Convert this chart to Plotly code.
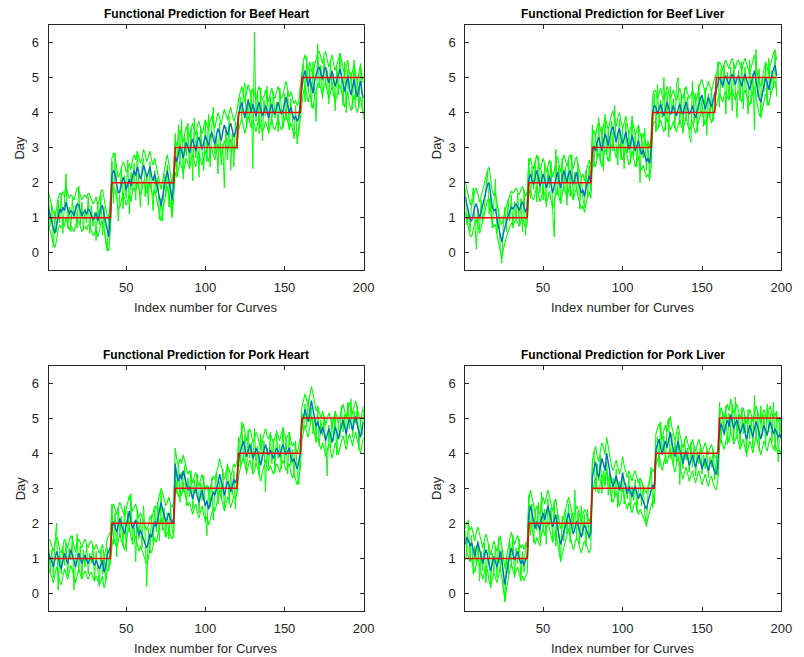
import plotly.graph_objects as go

# Predicted storage day per curve, grouped by the true day (1..5).
# Each panel: predicted value, upper/lower prediction bounds, and the
# individual (noisier) functional estimate.
DAYS = [1, 2, 3, 4, 5]
X_TICKS = [50, 100, 150, 200]
Y_TICKS = [0, 1, 2, 3, 4, 5, 6]

beef_heart_pred = [
    [1.25, 1.05, 0.85, 0.70, 0.55, 0.80, 1.10, 1.25, 1.15, 1.30, 1.20, 1.45, 1.25, 1.10, 1.20, 1.15, 1.05, 1.25, 1.40, 1.35,
     1.20, 1.05, 1.15, 1.20, 1.10, 1.25, 1.20, 1.10, 0.95, 1.00, 1.15, 0.90, 1.05, 1.30, 1.35, 1.10, 0.85, 0.60, 0.45, 1.10],
    [2.20, 2.35, 2.25, 1.95, 1.70, 1.75, 1.95, 2.15, 2.05, 1.80, 1.95, 2.10, 1.90, 2.20, 2.35, 2.20, 2.45, 2.30, 2.10, 2.25,
     2.50, 2.35, 2.15, 2.30, 2.45, 2.20, 2.05, 2.25, 2.00, 1.85, 1.55, 1.35, 1.60, 1.90, 2.15, 2.35, 2.05, 1.70, 1.50, 2.00],
    [2.75, 2.60, 2.80, 3.05, 2.90, 2.70, 2.95, 3.15, 3.00, 2.85, 3.10, 3.25, 3.05, 2.90, 3.20, 3.30, 3.10, 2.95, 3.15, 3.35,
     3.20, 3.05, 3.30, 3.45, 3.25, 3.10, 3.35, 3.55, 3.40, 3.20, 3.45, 3.65, 3.50, 3.35, 3.55, 3.70, 3.50, 3.30, 3.45, 3.60],
    [3.95, 4.15, 4.30, 4.05, 3.85, 4.10, 4.35, 4.20, 4.00, 4.25, 4.10, 3.90, 4.15, 4.30, 4.05, 3.90, 4.00, 4.20, 4.05, 3.85,
     4.10, 4.25, 4.00, 3.95, 4.15, 4.30, 4.10, 3.95, 4.05, 4.25, 4.45, 4.20, 4.00, 4.15, 3.95, 3.80, 3.90, 3.75, 3.85, 4.40],
    [4.70, 5.05, 5.20, 4.95, 4.75, 5.00, 4.80, 4.55, 4.90, 5.10, 5.25, 5.30, 5.15, 4.95, 5.20, 5.30, 5.05, 4.85, 5.00, 5.20,
     4.95, 4.75, 4.90, 5.10, 5.25, 5.05, 4.80, 4.60, 4.85, 5.05, 4.70, 4.50, 4.75, 4.95, 4.60, 4.45, 4.70, 4.90, 4.55, 4.40],
]
beef_heart_upper = [
    [1.70, 1.50, 1.35, 1.15, 1.05, 1.25, 1.55, 1.70, 1.65, 1.75, 1.60, 1.90, 1.70, 1.55, 1.65, 1.60, 1.50, 1.70, 1.85, 1.80,
     1.65, 1.50, 1.60, 1.65, 1.55, 1.70, 1.65, 1.55, 1.40, 1.45, 1.60, 1.35, 1.50, 1.75, 1.80, 1.55, 1.30, 1.05, 0.95, 1.55],
    [2.70, 2.85, 2.70, 2.40, 2.15, 2.25, 2.40, 2.60, 2.50, 2.30, 2.40, 2.55, 2.35, 2.65, 2.80, 2.65, 2.90, 2.75, 2.55, 2.70,
     2.95, 2.80, 2.60, 2.75, 2.90, 2.65, 2.50, 2.70, 2.45, 2.30, 2.00, 1.80, 2.05, 2.35, 2.60, 2.80, 2.50, 2.15, 1.95, 2.45],
    [3.20, 3.05, 3.25, 3.50, 3.35, 3.15, 3.40, 3.60, 3.45, 3.30, 3.55, 3.70, 3.50, 3.35, 3.65, 3.75, 3.55, 3.40, 3.60, 3.80,
     3.65, 3.50, 3.75, 3.90, 3.70, 3.55, 3.80, 4.00, 3.85, 3.65, 3.90, 4.10, 3.95, 3.80, 4.00, 4.15, 3.95, 3.75, 3.90, 4.05],
    [4.40, 4.60, 4.75, 4.50, 4.30, 4.55, 4.80, 4.65, 4.45, 4.70, 4.55, 4.35, 4.60, 4.75, 4.50, 4.35, 4.45, 4.65, 4.50, 4.30,
     4.55, 4.70, 4.45, 4.40, 4.60, 4.75, 4.55, 4.40, 4.50, 4.70, 4.90, 4.65, 4.45, 4.60, 4.40, 4.25, 4.35, 4.20, 4.30, 4.85],
    [5.15, 5.50, 5.65, 5.40, 5.20, 5.45, 5.25, 5.00, 5.35, 5.55, 5.70, 5.75, 5.60, 5.40, 5.65, 5.75, 5.50, 5.30, 5.45, 5.65,
     5.40, 5.20, 5.35, 5.55, 5.70, 5.50, 5.25, 5.05, 5.30, 5.50, 5.15, 4.95, 5.20, 5.40, 5.05, 4.90, 5.15, 5.35, 5.00, 4.85],
]
beef_heart_lower = [
    [0.80, 0.60, 0.40, 0.25, 0.15, 0.35, 0.65, 0.80, 0.70, 0.85, 0.75, 1.00, 0.80, 0.65, 0.75, 0.70, 0.60, 0.80, 0.95, 0.90,
     0.75, 0.60, 0.70, 0.75, 0.65, 0.80, 0.75, 0.65, 0.50, 0.55, 0.70, 0.45, 0.60, 0.85, 0.90, 0.65, 0.40, 0.15, 0.05, 0.65],
    [1.75, 1.85, 1.80, 1.50, 1.25, 1.30, 1.50, 1.70, 1.55, 1.35, 1.50, 1.65, 1.45, 1.75, 1.85, 1.75, 2.00, 1.85, 1.65, 1.80,
     2.05, 1.90, 1.70, 1.85, 2.00, 1.75, 1.60, 1.80, 1.55, 1.40, 1.10, 0.90, 1.15, 1.45, 1.70, 1.90, 1.60, 1.25, 1.05, 1.55],
    [2.30, 2.15, 2.35, 2.60, 2.45, 2.25, 2.50, 2.70, 2.55, 2.40, 2.65, 2.80, 2.60, 2.45, 2.75, 2.85, 2.65, 2.50, 2.70, 2.90,
     2.75, 2.60, 2.85, 3.00, 2.80, 2.65, 2.90, 3.10, 2.95, 2.75, 3.00, 3.20, 3.05, 2.90, 3.10, 3.25, 3.05, 2.85, 3.00, 3.15],
    [3.50, 3.70, 3.85, 3.60, 3.40, 3.65, 3.90, 3.75, 3.55, 3.80, 3.65, 3.45, 3.70, 3.85, 3.60, 3.45, 3.55, 3.75, 3.60, 3.40,
     3.65, 3.80, 3.55, 3.50, 3.70, 3.85, 3.65, 3.50, 3.60, 3.80, 4.00, 3.75, 3.55, 3.70, 3.50, 3.35, 3.45, 3.30, 3.40, 3.95],
    [4.25, 4.60, 4.75, 4.50, 4.30, 4.55, 4.35, 4.10, 4.45, 4.65, 4.80, 4.85, 4.70, 4.50, 4.75, 4.85, 4.60, 4.40, 4.55, 4.75,
     4.50, 4.30, 4.45, 4.65, 4.80, 4.60, 4.35, 4.15, 4.40, 4.60, 4.25, 4.05, 4.30, 4.50, 4.15, 4.00, 4.25, 4.45, 4.10, 3.95],
]
beef_heart_obs = [
    [1.55, 0.75, 1.35, 0.15, 1.20, 0.60, 1.50, 0.85, 1.70, 0.55, 1.40, 2.25, 0.70, 1.30, 0.60, 1.55, 0.95, 1.35, 0.70, 1.90,
     0.80, 1.45, 0.65, 1.25, 0.85, 1.60, 0.55, 1.35, 0.75, 1.15, 0.35, 1.45, 0.80, 1.65, 0.50, 1.30, 0.30, 0.05, 1.10, 0.70],
    [2.60, 1.40, 2.85, 1.90, 0.90, 1.70, 2.40, 1.25, 2.20, 1.55, 2.65, 1.10, 2.30, 1.75, 2.55, 1.50, 2.80, 1.95, 1.30, 2.45,
     2.70, 1.60, 2.20, 1.35, 2.60, 1.85, 1.20, 2.35, 1.70, 2.15, 0.95, 1.55, 0.90, 2.25, 1.60, 2.50, 1.30, 2.05, 1.00, 2.40],
    [3.40, 2.20, 3.65, 2.55, 3.80, 2.10, 3.30, 2.75, 3.70, 2.40, 3.55, 2.05, 3.85, 2.70, 3.45, 2.15, 3.60, 2.90, 2.35, 3.75,
     2.60, 3.95, 2.45, 3.50, 4.15, 2.80, 3.35, 2.25, 3.70, 2.50, 3.10, 1.85, 3.60, 2.65, 3.90, 2.35, 3.40, 2.45, 3.75, 2.95],
    [3.60, 4.45, 3.85, 4.60, 4.85, 3.55, 4.40, 3.70, 4.65, 2.40, 6.30, 3.75, 4.55, 3.40, 4.70, 3.20, 4.35, 3.90, 4.75, 3.50,
     4.45, 3.65, 4.60, 3.85, 4.30, 3.45, 4.70, 3.95, 3.55, 4.55, 3.80, 4.65, 3.50, 4.40, 3.70, 3.25, 4.20, 3.10, 3.60, 4.75],
    [4.85, 5.40, 4.30, 5.60, 4.55, 5.25, 4.15, 5.45, 4.60, 3.75, 5.95, 4.70, 5.35, 4.40, 5.55, 4.80, 5.20, 4.25, 5.50, 4.65,
     5.10, 4.05, 5.30, 4.50, 5.70, 4.90, 4.20, 5.45, 4.00, 5.25, 4.60, 5.15, 4.10, 5.50, 4.35, 4.95, 4.15, 5.40, 4.45, 3.80],
]

beef_liver_pred = [
    [1.60, 1.35, 1.10, 0.95, 0.90, 1.15, 1.30, 1.40, 1.20, 1.00, 1.15, 1.35, 1.50, 1.70, 1.95, 2.00, 1.65, 1.30, 1.20, 1.25,
     0.95, 0.70, 0.45, 0.30, 0.55, 0.75, 0.90, 1.05, 1.20, 1.30, 1.25, 1.35, 1.40, 1.30, 1.20, 1.35, 1.45, 1.30, 1.15, 1.30],
    [2.10, 2.25, 2.05, 1.95, 2.20, 2.35, 2.15, 1.90, 2.05, 2.25, 2.10, 1.85, 2.00, 2.20, 1.95, 1.70, 1.90, 2.15, 2.30, 2.05,
     1.85, 2.10, 2.35, 2.20, 2.00, 2.25, 2.35, 2.10, 1.95, 2.15, 2.30, 2.05, 1.85, 1.70, 1.80, 1.60, 1.85, 2.05, 2.20, 2.00],
    [2.85, 3.05, 2.90, 3.15, 3.30, 3.10, 2.90, 3.20, 3.40, 3.25, 3.05, 3.30, 3.50, 3.60, 3.35, 3.15, 3.40, 3.55, 3.30, 3.10,
     3.25, 3.45, 3.20, 2.95, 3.10, 3.35, 3.15, 2.90, 3.05, 3.20, 2.95, 2.80, 2.95, 2.75, 2.60, 2.70, 2.55, 2.90],
    [4.05, 4.20, 4.15, 3.95, 4.10, 4.25, 4.05, 3.90, 4.10, 4.30, 4.15, 3.95, 4.05, 4.20, 4.00, 3.90, 4.10, 4.25, 4.05, 3.95,
     4.15, 4.30, 4.10, 3.95, 4.05, 4.20, 4.00, 3.85, 4.05, 4.25, 4.40, 4.50, 4.30, 4.10, 4.25, 4.45, 4.30, 4.15, 4.35, 4.55],
    [4.65, 4.85, 5.00, 4.90, 4.75, 4.95, 5.05, 4.90, 4.80, 5.00, 5.10, 4.95, 4.80, 5.00, 5.05, 4.90, 4.75, 4.95, 5.10, 4.95,
     4.80, 4.65, 4.85, 5.05, 5.20, 4.90, 4.60, 4.40, 4.30, 4.55, 4.80, 5.00, 4.85, 4.65, 4.90, 5.10, 5.25, 5.35, 5.05],
]
beef_liver_upper = [
    [2.05, 1.80, 1.55, 1.40, 1.35, 1.60, 1.75, 1.85, 1.65, 1.45, 1.60, 1.80, 1.95, 2.15, 2.35, 2.45, 2.10, 1.75, 1.65, 1.70,
     1.40, 1.15, 0.90, 0.80, 1.00, 1.20, 1.35, 1.50, 1.65, 1.75, 1.70, 1.80, 1.85, 1.75, 1.65, 1.80, 1.90, 1.75, 1.60, 1.75],
    [2.55, 2.70, 2.50, 2.40, 2.65, 2.80, 2.60, 2.35, 2.50, 2.70, 2.55, 2.30, 2.45, 2.65, 2.40, 2.15, 2.35, 2.60, 2.75, 2.50,
     2.30, 2.55, 2.80, 2.65, 2.45, 2.70, 2.80, 2.55, 2.40, 2.60, 2.75, 2.50, 2.30, 2.15, 2.25, 2.05, 2.30, 2.50, 2.65, 2.45],
    [3.30, 3.50, 3.35, 3.60, 3.75, 3.55, 3.35, 3.65, 3.85, 3.70, 3.50, 3.75, 3.95, 4.05, 3.80, 3.60, 3.85, 4.00, 3.75, 3.55,
     3.70, 3.90, 3.65, 3.40, 3.55, 3.80, 3.60, 3.35, 3.50, 3.65, 3.40, 3.25, 3.40, 3.20, 3.05, 3.15, 3.00, 3.35],
    [4.50, 4.65, 4.60, 4.40, 4.55, 4.70, 4.50, 4.35, 4.55, 4.75, 4.60, 4.40, 4.50, 4.65, 4.45, 4.35, 4.55, 4.70, 4.50, 4.40,
     4.60, 4.75, 4.55, 4.40, 4.50, 4.65, 4.45, 4.30, 4.50, 4.70, 4.85, 4.95, 4.75, 4.55, 4.70, 4.90, 4.75, 4.60, 4.80, 5.00],
    [5.10, 5.30, 5.45, 5.35, 5.20, 5.40, 5.50, 5.35, 5.25, 5.45, 5.55, 5.40, 5.25, 5.45, 5.50, 5.35, 5.20, 5.40, 5.55, 5.40,
     5.25, 5.10, 5.30, 5.50, 5.65, 5.35, 5.05, 4.85, 4.75, 5.00, 5.25, 5.45, 5.30, 5.10, 5.35, 5.55, 5.70, 5.80, 5.50],
]
beef_liver_lower = [
    [1.15, 0.90, 0.65, 0.50, 0.45, 0.70, 0.85, 0.95, 0.75, 0.55, 0.70, 0.90, 1.05, 1.25, 1.50, 1.55, 1.20, 0.85, 0.75, 0.80,
     0.50, 0.25, 0.00, -0.15, 0.10, 0.30, 0.45, 0.60, 0.75, 0.85, 0.80, 0.90, 0.95, 0.85, 0.75, 0.90, 1.00, 0.85, 0.70, 0.85],
    [1.65, 1.80, 1.60, 1.50, 1.75, 1.90, 1.70, 1.45, 1.60, 1.80, 1.65, 1.40, 1.55, 1.75, 1.50, 1.25, 1.45, 1.70, 1.85, 1.60,
     1.40, 1.65, 1.90, 1.75, 1.55, 1.80, 1.90, 1.65, 1.50, 1.70, 1.85, 1.60, 1.40, 1.25, 1.35, 1.15, 1.40, 1.60, 1.75, 1.55],
    [2.40, 2.60, 2.45, 2.70, 2.85, 2.65, 2.45, 2.75, 2.95, 2.80, 2.60, 2.85, 3.05, 3.15, 2.90, 2.70, 2.95, 3.10, 2.85, 2.65,
     2.80, 3.00, 2.75, 2.50, 2.65, 2.90, 2.70, 2.45, 2.60, 2.75, 2.50, 2.35, 2.50, 2.30, 2.15, 2.25, 2.10, 2.45],
    [3.60, 3.75, 3.70, 3.50, 3.65, 3.80, 3.60, 3.45, 3.65, 3.85, 3.70, 3.50, 3.60, 3.75, 3.55, 3.45, 3.65, 3.80, 3.60, 3.50,
     3.70, 3.85, 3.65, 3.50, 3.60, 3.75, 3.55, 3.40, 3.60, 3.80, 3.95, 4.05, 3.85, 3.65, 3.80, 4.00, 3.85, 3.70, 3.90, 4.10],
    [4.20, 4.40, 4.55, 4.45, 4.30, 4.50, 4.60, 4.45, 4.35, 4.55, 4.65, 4.50, 4.35, 4.55, 4.60, 4.45, 4.30, 4.50, 4.65, 4.50,
     4.35, 4.20, 4.40, 4.60, 4.75, 4.45, 4.15, 3.95, 3.85, 4.10, 4.35, 4.55, 4.40, 4.20, 4.45, 4.65, 4.80, 4.90, 4.60],
]
beef_liver_obs = [
    [1.85, 0.80, 1.20, 0.60, 1.45, 1.85, 0.90, 0.10, 1.25, 0.65, 1.50, 0.85, 1.30, 1.75, 2.35, 1.10, 1.60, 0.70, 1.40, 2.10,
     0.55, 1.25, 0.15, -0.30, 0.80, 1.30, 0.60, 1.50, 0.90, 1.65, 0.70, 1.45, 0.95, 1.70, 0.80, 1.55, 0.60, 1.80, 0.50, 1.60],
    [2.70, 1.55, 2.45, 1.80, 2.60, 1.45, 2.75, 1.70, 2.35, 1.50, 2.55, 1.30, 2.40, 1.85, 2.60, 1.20, 0.45, 2.95, 1.65, 2.50,
     1.40, 2.70, 1.75, 2.45, 1.35, 2.65, 1.60, 2.80, 1.50, 2.30, 1.75, 2.55, 1.25, 2.20, 1.55, 1.30, 2.35, 1.60, 2.50, 1.75],
    [3.65, 2.45, 3.40, 2.70, 3.85, 2.55, 3.60, 2.35, 3.95, 2.80, 3.50, 2.60, 3.75, 2.90, 4.20, 3.05, 2.50, 3.80, 2.65, 3.55,
     2.40, 3.70, 2.85, 3.45, 2.55, 3.90, 2.75, 3.35, 2.45, 3.60, 2.00, 3.40, 2.70, 3.55, 2.35, 3.20, 2.05, 3.45],
    [3.70, 4.55, 3.45, 4.80, 3.60, 4.35, 3.85, 5.00, 3.50, 4.60, 3.30, 4.75, 3.95, 4.40, 3.55, 4.85, 5.00, 3.65, 4.50, 3.40,
     4.70, 3.80, 4.45, 3.35, 3.15, 4.90, 3.70, 4.55, 3.45, 4.80, 3.90, 4.40, 3.60, 4.70, 3.35, 4.55, 3.85, 4.65, 3.75, 4.50],
    [4.50, 5.45, 4.15, 5.25, 4.70, 5.35, 3.95, 5.15, 4.40, 5.30, 4.05, 5.40, 4.55, 3.85, 5.20, 4.35, 5.45, 4.10, 5.30, 4.60,
     3.95, 5.50, 4.25, 5.10, 3.50, 5.80, 4.45, 5.25, 3.90, 5.05, 4.60, 5.35, 4.20, 5.55, 4.50, 5.20, 4.70, 5.75, 4.45],
]

pork_heart_pred = [
    [1.15, 1.05, 0.90, 0.75, 0.95, 1.20, 1.05, 0.80, 0.70, 0.95, 1.15, 1.00, 0.85, 1.05, 1.25, 1.10, 0.90, 0.75, 0.95, 1.15,
     1.00, 0.85, 1.00, 1.10, 0.95, 0.85, 1.00, 1.05, 0.90, 0.80, 0.95, 0.85, 0.70, 0.80, 0.95, 0.60, 0.75, 1.10, 1.20, 1.30],
    [1.85, 2.05, 1.90, 1.75, 1.95, 2.15, 1.95, 1.80, 1.70, 1.95, 2.20, 2.35, 2.05, 1.85, 1.95, 2.10, 1.85, 1.65, 1.80, 1.70,
     1.55, 1.40, 1.30, 1.45, 1.70, 1.60, 1.85, 2.05, 1.90, 2.15, 2.35, 2.60, 2.40, 2.20, 2.05, 2.15, 2.30, 2.10, 2.00, 2.15],
    [3.70, 3.35, 3.20, 3.40, 3.25, 3.50, 3.30, 3.10, 2.95, 3.05, 2.85, 2.70, 2.90, 3.00, 2.75, 2.60, 2.80, 2.95, 2.70, 2.50,
     2.65, 2.40, 2.55, 2.75, 2.90, 2.80, 2.95, 3.15, 3.40, 3.20, 2.95, 2.80, 3.00, 3.20, 3.10, 2.90, 3.05, 3.25, 3.15, 3.30],
    [3.80, 4.05, 4.20, 4.35, 4.10, 3.90, 4.05, 4.25, 4.10, 3.85, 3.95, 4.15, 4.05, 3.80, 3.65, 3.90, 4.10, 4.25, 4.05, 3.95,
     4.10, 3.95, 3.85, 4.00, 4.15, 4.05, 3.90, 4.10, 4.25, 4.10, 3.95, 4.05, 4.15, 3.90, 3.75, 3.85, 3.70, 3.55, 3.75, 4.00],
    [4.85, 5.10, 5.25, 5.05, 4.90, 5.20, 5.50, 5.25, 4.95, 4.75, 4.90, 4.70, 4.55, 4.75, 4.60, 4.35, 4.50, 4.70, 4.55, 4.30,
     4.50, 4.75, 4.60, 4.40, 4.60, 4.80, 4.95, 4.75, 4.55, 4.80, 5.00, 4.85, 4.65, 4.90, 5.05, 4.80, 4.60, 4.45, 4.70, 4.90],
]
pork_heart_upper = [
    [1.55, 1.50, 1.35, 1.20, 1.40, 1.60, 1.50, 1.25, 1.15, 1.40, 1.55, 1.45, 1.30, 1.50, 1.65, 1.55, 1.35, 1.20, 1.40, 1.55,
     1.45, 1.30, 1.45, 1.55, 1.40, 1.30, 1.45, 1.50, 1.35, 1.25, 1.40, 1.30, 1.15, 1.25, 1.40, 1.05, 1.20, 1.55, 1.65, 1.75],
    [2.45, 2.55, 2.40, 2.25, 2.45, 2.60, 2.45, 2.30, 2.20, 2.40, 2.65, 2.80, 2.55, 2.35, 2.45, 2.55, 2.35, 2.15, 2.30, 2.20,
     2.05, 1.90, 1.80, 1.95, 2.20, 2.10, 2.30, 2.50, 2.40, 2.60, 2.80, 3.00, 2.85, 2.65, 2.50, 2.60, 2.75, 2.55, 2.45, 2.60],
    [4.15, 3.80, 3.65, 3.85, 3.70, 3.95, 3.75, 3.55, 3.40, 3.50, 3.30, 3.15, 3.35, 3.45, 3.20, 3.05, 3.25, 3.40, 3.15, 2.95,
     3.10, 2.85, 3.00, 3.20, 3.35, 3.25, 3.40, 3.60, 3.85, 3.65, 3.40, 3.25, 3.45, 3.65, 3.55, 3.35, 3.50, 3.70, 3.60, 3.75],
    [4.25, 4.50, 4.65, 4.85, 4.55, 4.35, 4.50, 4.70, 4.55, 4.30, 4.40, 4.60, 4.50, 4.25, 4.10, 4.35, 4.55, 4.70, 4.50, 4.40,
     4.55, 4.40, 4.30, 4.45, 4.60, 4.50, 4.35, 4.55, 4.70, 4.55, 4.40, 4.50, 4.60, 4.35, 4.20, 4.30, 4.15, 4.00, 4.20, 4.45],
    [5.30, 5.55, 5.70, 5.50, 5.35, 5.65, 5.90, 5.70, 5.40, 5.20, 5.35, 5.15, 5.00, 5.20, 5.05, 4.80, 4.95, 5.15, 5.00, 4.75,
     4.95, 5.20, 5.05, 4.85, 5.05, 5.25, 5.40, 5.20, 5.00, 5.25, 5.45, 5.30, 5.10, 5.35, 5.50, 5.25, 5.05, 4.90, 5.15, 5.35],
]
pork_heart_lower = [
    [0.70, 0.60, 0.45, 0.30, 0.50, 0.75, 0.60, 0.35, 0.25, 0.50, 0.70, 0.55, 0.40, 0.60, 0.80, 0.65, 0.45, 0.30, 0.50, 0.70,
     0.55, 0.40, 0.55, 0.65, 0.50, 0.40, 0.55, 0.60, 0.45, 0.35, 0.50, 0.40, 0.25, 0.35, 0.50, 0.15, 0.30, 0.65, 0.75, 0.85],
    [1.35, 1.60, 1.45, 1.30, 1.50, 1.70, 1.50, 1.35, 1.25, 1.45, 1.75, 1.90, 1.60, 1.40, 1.50, 1.65, 1.40, 1.20, 1.35, 1.25,
     1.10, 0.95, 0.85, 1.00, 1.25, 1.15, 1.40, 1.60, 1.45, 1.70, 1.90, 2.15, 1.95, 1.75, 1.60, 1.70, 1.85, 1.65, 1.55, 1.70],
    [3.25, 2.90, 2.75, 2.95, 2.80, 3.05, 2.85, 2.65, 2.50, 2.60, 2.40, 2.25, 2.45, 2.55, 2.30, 2.15, 2.35, 2.50, 2.25, 2.05,
     2.20, 1.95, 2.10, 2.30, 2.45, 2.35, 2.50, 2.70, 2.95, 2.75, 2.50, 2.35, 2.55, 2.75, 2.65, 2.45, 2.60, 2.80, 2.70, 2.85],
    [3.35, 3.60, 3.75, 3.90, 3.65, 3.45, 3.60, 3.80, 3.65, 3.40, 3.50, 3.70, 3.60, 3.35, 3.20, 3.45, 3.65, 3.80, 3.60, 3.50,
     3.65, 3.50, 3.40, 3.55, 3.70, 3.60, 3.45, 3.65, 3.80, 3.65, 3.50, 3.60, 3.70, 3.45, 3.30, 3.40, 3.25, 3.10, 3.30, 3.55],
    [4.40, 4.65, 4.80, 4.60, 4.45, 4.75, 5.05, 4.80, 4.50, 4.30, 4.45, 4.25, 4.10, 4.30, 4.15, 3.90, 4.05, 4.25, 4.10, 3.85,
     4.05, 4.30, 4.15, 3.95, 4.15, 4.35, 4.50, 4.30, 4.10, 4.35, 4.55, 4.40, 4.20, 4.45, 4.60, 4.35, 4.15, 4.00, 4.25, 4.45],
]
pork_heart_obs = [
    [1.45, 0.60, 1.25, 0.45, 1.50, 2.00, 0.10, 1.20, 0.55, 1.35, 0.80, 1.45, 0.50, 1.30, 0.95, 1.65, 0.10, 0.85, 1.70, 0.60,
     1.35, 0.45, 1.25, 0.75, 1.40, 0.55, 1.15, 0.85, 1.35, 0.40, 1.20, 0.70, 0.20, 1.25, 0.55, 1.10, 0.35, 1.30, 0.65, 1.40],
    [2.55, 1.40, 2.30, 1.05, 2.45, 1.65, 2.20, 1.35, 2.50, 1.20, 2.35, 1.75, 2.85, 1.50, 2.05, 0.90, 2.40, 1.55, 2.15, 1.30,
     2.50, 1.60, 0.20, 1.85, 1.15, 2.25, 1.45, 2.40, 1.75, 2.60, 1.50, 2.90, 1.80, 2.45, 1.65, 2.30, 1.55, 2.50, 1.85, 1.60],
    [3.55, 2.85, 3.70, 2.60, 3.45, 2.90, 3.65, 2.50, 3.30, 2.75, 3.50, 2.40, 3.25, 2.85, 3.40, 2.30, 3.15, 2.65, 3.35, 2.20,
     1.65, 3.05, 2.45, 3.30, 2.10, 2.95, 3.45, 2.55, 3.20, 2.70, 3.55, 2.45, 3.10, 3.70, 2.60, 3.35, 2.80, 3.50, 2.40, 3.25],
    [4.45, 3.60, 4.90, 3.75, 4.50, 3.40, 4.65, 3.85, 4.30, 3.50, 4.70, 3.65, 4.20, 3.35, 4.55, 3.80, 4.35, 2.90, 4.15, 3.60,
     4.60, 3.70, 4.40, 3.45, 4.65, 3.85, 4.25, 3.55, 4.75, 3.70, 4.45, 3.40, 4.60, 3.65, 4.10, 3.30, 4.35, 3.50, 3.10, 4.20],
    [5.15, 4.60, 5.40, 4.75, 5.55, 4.90, 5.30, 4.55, 5.10, 4.40, 5.25, 4.20, 4.95, 4.50, 5.05, 4.25, 3.35, 4.80, 4.15, 5.00,
     4.35, 5.20, 3.95, 4.85, 4.45, 5.35, 4.60, 5.10, 4.30, 5.45, 4.70, 5.55, 4.45, 5.20, 4.85, 5.35, 4.10, 4.95, 4.50, 5.25],
]

pork_liver_pred = [
    [1.40, 1.60, 1.50, 1.35, 1.45, 1.20, 1.05, 1.30, 1.45, 1.25, 1.00, 0.85, 1.05, 1.25, 1.10, 0.80, 0.65, 0.85, 1.05, 0.90,
     0.75, 0.95, 1.20, 0.90, 0.50, 0.25, 0.60, 0.90, 1.10, 1.30, 1.15, 0.95, 1.10, 1.20, 1.00, 0.85, 0.95, 0.80, 0.95, 1.05],
    [2.20, 2.50, 2.30, 2.05, 1.85, 2.05, 1.90, 1.80, 2.15, 2.30, 2.10, 2.35, 2.50, 2.30, 2.10, 1.90, 2.10, 2.25, 1.90, 1.60,
     1.40, 1.55, 1.75, 1.95, 2.15, 2.30, 2.10, 1.85, 1.70, 1.85, 2.05, 1.95, 1.75, 1.60, 1.80, 1.95, 1.85, 1.70, 1.60, 1.75],
    [3.30, 3.55, 3.75, 3.45, 3.30, 3.60, 3.85, 3.70, 3.50, 4.00, 3.70, 3.40, 3.20, 3.05, 3.20, 3.35, 3.15, 2.95, 3.10, 3.45,
     3.20, 3.00, 2.85, 3.05, 2.90, 2.75, 2.95, 3.05, 2.85, 2.70, 2.85, 2.75, 2.60, 2.50, 2.40, 2.60, 2.80, 2.95, 3.10, 3.00],
    [4.10, 4.25, 4.40, 4.15, 3.95, 4.20, 4.35, 4.15, 4.40, 4.60, 4.30, 4.05, 3.90, 4.15, 4.35, 4.10, 3.85, 3.70, 3.90, 4.05,
     3.85, 3.65, 3.80, 3.95, 3.75, 3.60, 3.80, 3.95, 3.75, 3.55, 3.70, 3.85, 3.65, 3.50, 3.70, 3.80, 3.60, 3.45, 3.40, 3.70],
    [4.60, 4.85, 4.70, 4.55, 4.80, 4.95, 4.75, 5.10, 4.90, 4.70, 4.85, 4.95, 4.75, 4.55, 4.70, 4.85, 4.60, 4.40, 4.60, 4.80,
     4.65, 4.45, 4.70, 4.90, 4.75, 4.55, 4.40, 4.60, 4.80, 4.65, 4.50, 4.75, 4.90, 4.70, 4.55, 4.70, 4.60, 4.45, 4.55, 4.40],
]
pork_liver_upper = [
    [1.85, 2.05, 1.95, 1.80, 1.90, 1.65, 1.50, 1.75, 1.90, 1.70, 1.45, 1.30, 1.50, 1.70, 1.55, 1.25, 1.10, 1.30, 1.50, 1.35,
     1.20, 1.40, 1.65, 1.35, 0.95, 0.70, 1.05, 1.35, 1.55, 1.75, 1.60, 1.40, 1.55, 1.65, 1.45, 1.30, 1.40, 1.25, 1.40, 1.50],
    [2.65, 2.95, 2.75, 2.50, 2.30, 2.50, 2.35, 2.25, 2.60, 2.75, 2.55, 2.80, 2.95, 2.75, 2.55, 2.35, 2.55, 2.70, 2.35, 2.05,
     1.85, 2.00, 2.20, 2.40, 2.60, 2.75, 2.55, 2.30, 2.15, 2.30, 2.50, 2.40, 2.20, 2.05, 2.25, 2.40, 2.30, 2.15, 2.05, 2.20],
    [3.75, 4.00, 4.20, 3.90, 3.75, 4.05, 4.30, 4.15, 3.95, 4.45, 4.15, 3.85, 3.65, 3.50, 3.65, 3.80, 3.60, 3.40, 3.55, 3.90,
     3.65, 3.45, 3.30, 3.50, 3.35, 3.20, 3.40, 3.50, 3.30, 3.15, 3.30, 3.20, 3.05, 2.95, 2.85, 3.05, 3.25, 3.40, 3.55, 3.45],
    [4.55, 4.70, 4.85, 4.60, 4.40, 4.65, 4.80, 4.60, 4.85, 5.05, 4.75, 4.50, 4.35, 4.60, 4.80, 4.55, 4.30, 4.15, 4.35, 4.50,
     4.30, 4.10, 4.25, 4.40, 4.20, 4.05, 4.25, 4.40, 4.20, 4.00, 4.15, 4.30, 4.10, 3.95, 4.15, 4.25, 4.05, 3.90, 3.85, 4.15],
    [5.05, 5.30, 5.15, 5.00, 5.25, 5.40, 5.20, 5.55, 5.35, 5.15, 5.30, 5.40, 5.20, 5.00, 5.15, 5.30, 5.05, 4.85, 5.05, 5.25,
     5.10, 4.90, 5.15, 5.35, 5.20, 5.00, 4.85, 5.05, 5.25, 5.10, 4.95, 5.20, 5.35, 5.15, 5.00, 5.15, 5.05, 4.90, 5.00, 4.85],
]
pork_liver_lower = [
    [0.95, 1.15, 1.05, 0.90, 1.00, 0.75, 0.60, 0.85, 1.00, 0.80, 0.55, 0.40, 0.60, 0.80, 0.65, 0.35, 0.20, 0.40, 0.60, 0.45,
     0.30, 0.50, 0.75, 0.45, 0.05, -0.20, 0.15, 0.45, 0.65, 0.85, 0.70, 0.50, 0.65, 0.75, 0.55, 0.40, 0.50, 0.35, 0.50, 0.60],
    [1.75, 2.05, 1.85, 1.60, 1.40, 1.60, 1.45, 1.35, 1.70, 1.85, 1.65, 1.90, 2.05, 1.85, 1.65, 1.45, 1.65, 1.80, 1.45, 1.15,
     0.95, 1.10, 1.30, 1.50, 1.70, 1.85, 1.65, 1.40, 1.25, 1.40, 1.60, 1.50, 1.30, 1.15, 1.35, 1.50, 1.40, 1.25, 1.15, 1.30],
    [2.85, 3.10, 3.30, 3.00, 2.85, 3.15, 3.40, 3.25, 3.05, 3.55, 3.25, 2.95, 2.75, 2.60, 2.75, 2.90, 2.70, 2.50, 2.65, 3.00,
     2.75, 2.55, 2.40, 2.60, 2.45, 2.30, 2.50, 2.60, 2.40, 2.25, 2.40, 2.30, 2.15, 2.05, 1.95, 2.15, 2.35, 2.50, 2.65, 2.55],
    [3.65, 3.80, 3.95, 3.70, 3.50, 3.75, 3.90, 3.70, 3.95, 4.15, 3.85, 3.60, 3.45, 3.70, 3.90, 3.65, 3.40, 3.25, 3.45, 3.60,
     3.40, 3.20, 3.35, 3.50, 3.30, 3.15, 3.35, 3.50, 3.30, 3.10, 3.25, 3.40, 3.20, 3.05, 3.25, 3.35, 3.15, 3.00, 2.95, 3.25],
    [4.15, 4.40, 4.25, 4.10, 4.35, 4.50, 4.30, 4.65, 4.45, 4.25, 4.40, 4.50, 4.30, 4.10, 4.25, 4.40, 4.15, 3.95, 4.15, 4.35,
     4.20, 4.00, 4.25, 4.45, 4.30, 4.10, 3.95, 4.15, 4.35, 4.20, 4.05, 4.30, 4.45, 4.25, 4.10, 4.25, 4.15, 4.00, 4.10, 3.95],
]
pork_liver_obs = [
    [1.80, 1.15, 2.10, 0.90, 1.65, 0.55, 1.35, 0.80, 1.50, 0.35, 1.20, 0.65, 1.45, 0.30, 1.05, 1.40, 0.15, 1.15, 0.60, 1.35,
     0.45, 1.60, 0.70, 1.25, 0.40, -0.25, 1.10, 0.55, 1.50, 0.75, 1.65, 0.45, 1.30, 0.85, 1.55, 0.35, 1.20, 0.60, 1.45, 1.30],
    [2.80, 1.65, 2.55, 1.45, 2.35, 1.80, 2.60, 1.50, 2.90, 1.75, 2.40, 1.40, 2.70, 1.95, 2.45, 1.55, 2.65, 1.35, 2.25, 1.60,
     0.90, 2.20, 1.50, 2.40, 1.70, 2.55, 1.45, 2.30, 1.85, 2.95, 1.55, 2.35, 1.40, 2.50, 1.65, 2.25, 1.35, 2.40, 1.55, 2.05],
    [3.65, 4.05, 2.90, 3.70, 3.20, 3.95, 2.85, 3.50, 3.15, 3.75, 2.80, 3.45, 2.60, 3.30, 2.75, 3.55, 2.45, 3.20, 2.90, 3.40,
     2.55, 3.15, 2.70, 3.35, 2.40, 3.05, 2.65, 3.25, 2.35, 2.95, 3.20, 2.50, 3.10, 2.30, 1.90, 2.85, 3.30, 3.60, 2.45, 3.20],
    [3.80, 4.45, 3.60, 4.90, 3.95, 4.50, 3.70, 4.80, 5.00, 3.85, 4.55, 3.65, 4.35, 3.75, 4.60, 3.10, 4.25, 3.55, 4.40, 3.80,
     4.15, 3.45, 4.30, 3.60, 4.20, 3.35, 4.05, 3.70, 4.25, 3.40, 3.95, 3.55, 4.15, 3.30, 3.90, 3.60, 4.10, 3.25, 3.85, 3.35],
    [5.45, 4.30, 5.20, 4.50, 5.35, 4.25, 5.15, 4.60, 5.40, 4.35, 5.60, 4.45, 5.10, 4.20, 5.30, 4.55, 5.05, 3.90, 5.25, 4.40,
     5.00, 4.15, 5.65, 4.35, 5.20, 4.05, 5.35, 4.50, 5.10, 4.25, 5.40, 4.60, 5.15, 4.30, 5.45, 4.05, 5.20, 3.75, 4.95, 4.40],
]

TITLES = [
    "Functional Prediction for Beef Heart",
    "Functional Prediction for Beef Liver",
    "Functional Prediction for Pork Heart",
    "Functional Prediction for Pork Liver",
]
PANELS = [
    (beef_heart_pred, beef_heart_upper, beef_heart_lower, beef_heart_obs),
    (beef_liver_pred, beef_liver_upper, beef_liver_lower, beef_liver_obs),
    (pork_heart_pred, pork_heart_upper, pork_heart_lower, pork_heart_obs),
    (pork_liver_pred, pork_liver_upper, pork_liver_lower, pork_liver_obs),
]

# ---- layout geometry (pixels) ----
W, H = 804, 657
BOXES = [  # (left, right, top, bottom) of each plot area
    (49.3, 368.7, 25.0, 270.2),
    (471.7, 792.3, 25.0, 270.2),
    (49.3, 368.7, 365.5, 611.0),
    (471.7, 792.3, 365.5, 611.0),
]
FONT = "Liberation Sans, Arial, Helvetica, sans-serif"
AXIS_COLOR = "#262626"
BLUE = "#0072BD"
GREEN = "#00FF00"
RED = "#FF0000"


def fx(px):
    return px / W


def fy(py):
    return 1 - py / H


def flat(segments):
    out = []
    for seg in segments:
        out.extend(seg)
    return out


fig = go.Figure()
annotations = []

for i, ((pred, upper, lower, obs), title, box) in enumerate(zip(PANELS, TITLES, BOXES)):
    n = i + 1
    xa = "x" if n == 1 else f"x{n}"
    ya = "y" if n == 1 else f"y{n}"

    y_pred = flat(pred)
    y_true = []
    for day, seg in zip(DAYS, pred):
        y_true.extend([day] * len(seg))
    idx = list(range(1, len(y_pred) + 1))

    def line(y, color, width):
        fig.add_trace(go.Scatter(x=idx, y=y, mode="lines", line=dict(color=color, width=width),
                                 xaxis=xa, yaxis=ya, showlegend=False, hoverinfo="skip"))

    # green bands underneath, prediction and true day on top
    line(flat(obs), GREEN, 1.0)
    line(flat(upper), GREEN, 1.1)
    line(flat(lower), GREEN, 1.1)
    line(y_pred, BLUE, 1.4)
    line(y_true, RED, 1.5)

    left, right, top, bottom = box
    common = dict(showline=True, linecolor=AXIS_COLOR, linewidth=1, mirror="ticks",
                  ticks="inside", ticklen=4, tickcolor=AXIS_COLOR, showgrid=False,
                  zeroline=False, tickfont=dict(family=FONT, size=13, color=AXIS_COLOR))
    fig.update_layout(**{
        ("xaxis" if n == 1 else f"xaxis{n}"): dict(
            domain=[fx(left), fx(right)], range=[1, 200], tickvals=X_TICKS,
            anchor=ya, ticklabelstandoff=5, **common),
        ("yaxis" if n == 1 else f"yaxis{n}"): dict(
            domain=[fy(bottom), fy(top)], range=[-0.5, 6.5], tickvals=Y_TICKS,
            anchor=xa, ticklabelstandoff=6, **common),
    })

    cx = (left + right) / 2
    annotations.append(dict(text=f"<b>{title}</b>", x=fx(cx), y=fy(top - 11), xref="paper", yref="paper",
                            xanchor="center", yanchor="middle", showarrow=False,
                            font=dict(family=FONT, size=12, color="black")))
    annotations.append(dict(text="Index number for Curves", x=fx(cx), y=fy(bottom + 37),
                            xref="paper", yref="paper", xanchor="center", yanchor="middle",
                            showarrow=False, font=dict(family=FONT, size=13, color=AXIS_COLOR)))
    annotations.append(dict(text="Day", x=fx(left - 29), y=fy((top + bottom) / 2), xref="paper",
                            yref="paper", xanchor="center", yanchor="middle", textangle=-90,
                            showarrow=False, font=dict(family=FONT, size=13, color=AXIS_COLOR)))

fig.update_layout(width=W, height=H, margin=dict(l=0, r=0, t=0, b=0),
                  paper_bgcolor="white", plot_bgcolor="white", annotations=annotations)

fig.write_html("out.html")
